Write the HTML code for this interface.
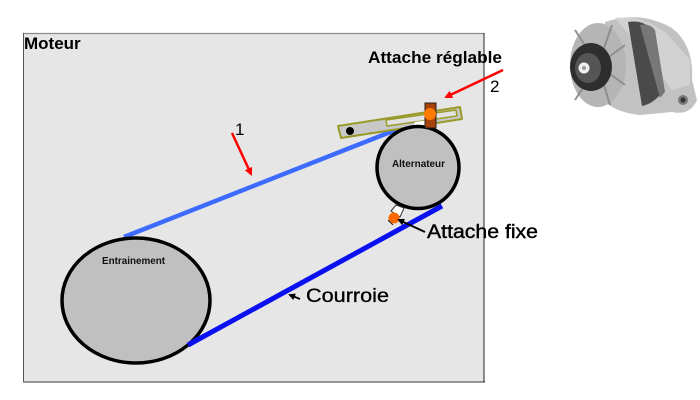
<!DOCTYPE html>
<html><head><meta charset="utf-8"><style>
html,body{margin:0;padding:0;background:#fff;width:700px;height:400px;overflow:hidden}
svg{display:block}
text{font-family:"Liberation Sans",Arial,sans-serif}
</style></head><body>
<svg width="700" height="400" viewBox="0 0 700 400" xmlns="http://www.w3.org/2000/svg">
<defs>
<marker id="ar" markerWidth="8" markerHeight="8" refX="6" refY="4" orient="auto" markerUnits="userSpaceOnUse">
<path d="M0,0 L8,4 L0,8 Z" fill="#ff0000"/></marker>
<marker id="ak" markerWidth="7" markerHeight="7" refX="5" refY="3.5" orient="auto" markerUnits="userSpaceOnUse">
<path d="M0,0 L7,3.5 L0,7 Z" fill="#000"/></marker>
</defs>
<!-- panel -->
<rect x="23.5" y="33.5" width="460.5" height="348.5" fill="#e6e6e7" stroke="none"/>
<line x1="23" y1="33.5" x2="484" y2="33.5" stroke="#8a8a8a" stroke-width="1.2"/>
<line x1="23.5" y1="33" x2="23.5" y2="382" stroke="#555" stroke-width="1"/>
<line x1="23" y1="382" x2="485" y2="382" stroke="#777" stroke-width="1.5"/>
<line x1="484" y1="33" x2="484" y2="382" stroke="#222" stroke-width="1"/>
<text x="24" y="49" font-size="17" font-weight="bold" fill="#000">Moteur</text>

<!-- belts -->
<line x1="124" y1="237" x2="398" y2="129" stroke="#3d6bff" stroke-width="4.5"/>
<line x1="188" y1="345" x2="442" y2="206" stroke="#0a10f0" stroke-width="5"/>

<!-- Entrainement pulley -->
<ellipse cx="136" cy="300.5" rx="74" ry="62.5" fill="#c0c0c0" stroke="#000" stroke-width="3.5"/>
<line x1="188" y1="345" x2="200" y2="338" stroke="#0a10f0" stroke-width="5"/>
<text x="102" y="264" font-size="10" font-weight="bold" fill="#111" textLength="63" lengthAdjust="spacingAndGlyphs">Entrainement</text>

<!-- lever -->
<polygon points="338,126 460,107 462,119 341,138" fill="#c8c8c8" stroke="#9a9a2a" stroke-width="2" stroke-linejoin="round"/>
<polygon points="386,120 456,110 457,116 387,126" fill="#e2e2e2" stroke="#9a9a2a" stroke-width="1.5" stroke-linejoin="round"/>
<circle cx="350" cy="131" r="4" fill="#000"/>
<polygon points="415,122 436,119 436,128 412,128" fill="#fff"/>

<!-- Alternateur pulley -->
<circle cx="418" cy="167.5" r="41" fill="#c0c0c0" stroke="#000" stroke-width="3.5"/>
<text x="392" y="167" font-size="10" font-weight="bold" fill="#111" textLength="53" lengthAdjust="spacingAndGlyphs">Alternateur</text>

<!-- brown block + orange -->
<rect x="425" y="103" width="11" height="25" fill="#a8420c" stroke="#222" stroke-width="1"/>
<circle cx="430" cy="114" r="6" fill="#ff7a00"/>

<!-- fixed attach -->
<polygon points="391,211 396,205 404,208 400,217" fill="#fff" stroke="#333" stroke-width="1"/>
<circle cx="394" cy="218" r="5.5" fill="#ff6a00"/>
<path d="M388,220 L393,225" stroke="#222" stroke-width="1"/>

<!-- red arrows -->
<line x1="503" y1="70" x2="446" y2="97" stroke="#ff0000" stroke-width="2.5" marker-end="url(#ar)"/>
<line x1="232" y1="133" x2="251" y2="174" stroke="#ff0000" stroke-width="2.5" marker-end="url(#ar)"/>

<!-- labels -->
<text x="368" y="63" font-size="17" font-weight="bold" fill="#000" textLength="134" lengthAdjust="spacingAndGlyphs">Attache réglable</text>
<text x="490" y="92" font-size="17" fill="#000">2</text>
<text x="235" y="135" font-size="17" fill="#000">1</text>

<line x1="425" y1="232" x2="399" y2="220" stroke="#000" stroke-width="2" marker-end="url(#ak)"/>
<text x="427" y="238" font-size="19" fill="#000" stroke="#000" stroke-width="0.4" textLength="111" lengthAdjust="spacingAndGlyphs">Attache fixe</text>

<line x1="300" y1="299" x2="290" y2="295" stroke="#000" stroke-width="2" marker-end="url(#ak)"/>
<text x="306" y="302" font-size="19" fill="#000" stroke="#000" stroke-width="0.3" textLength="83" lengthAdjust="spacingAndGlyphs">Courroie</text>

<!-- alternator photo -->
<g>
<path d="M605,22 Q640,10 672,28 Q694,45 692,80 L697,100 Q690,116 672,112 L640,115 Q610,112 600,95 Z" fill="#c2c2c2"/>
<path d="M615,18 Q645,15 668,35 L690,60 L690,85 L672,90 L650,60 Z" fill="#d2d2d2"/>
<path d="M628,22 Q640,20 648,26 L660,95 Q652,104 642,106 L636,70 Z" fill="#4a4a4a"/>
<path d="M640,25 Q650,23 655,30 L665,92 L660,98 Z" fill="#777"/>
<circle cx="683" cy="100" r="5" fill="#777"/>
<circle cx="683" cy="100" r="2.5" fill="#333"/>
<ellipse cx="598" cy="65" rx="28" ry="42" fill="#b5b5b5"/>
<g stroke="#8e8e8e" stroke-width="2">
<line x1="598" y1="65" x2="575" y2="30"/><line x1="598" y1="65" x2="612" y2="25"/>
<line x1="598" y1="65" x2="625" y2="45"/><line x1="598" y1="65" x2="625" y2="85"/>
<line x1="598" y1="65" x2="610" y2="105"/><line x1="598" y1="65" x2="575" y2="100"/>
</g>
<ellipse cx="591" cy="67" rx="21" ry="24" fill="#2e2e2e"/>
<ellipse cx="588" cy="68" rx="13" ry="15" fill="#555"/>
<circle cx="584" cy="68" r="5.5" fill="#f0f0f0"/>
<circle cx="584" cy="68" r="2" fill="#999"/>
</g>
</svg>
</body></html>
